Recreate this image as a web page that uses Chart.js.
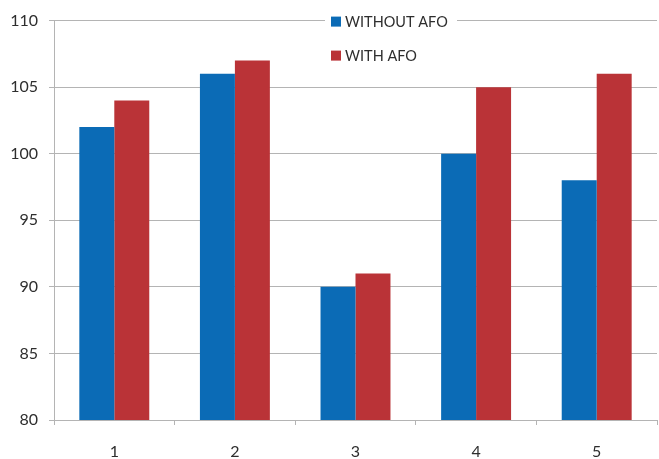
<!DOCTYPE html>
<html>
<head>
<meta charset="utf-8">
<script src="https://cdn.jsdelivr.net/npm/chart.js@4/dist/chart.umd.min.js"></script>
<style>
  html, body { margin: 0; padding: 0; background: #fff; overflow: hidden; }
  #wrap { width: 659px; height: 459px; position: relative; }
</style>
</head>
<body>
<div id="wrap"><canvas id="c"></canvas></div>
<script>
const categories = ['1', '2', '3', '4', '5'];
const withoutAfo = [102, 106, 90, 100, 98];
const withAfo = [104, 107, 91, 105, 106];
const seriesNames = ['WITHOUT AFO', 'WITH AFO'];
const yTicks = [80, 85, 90, 95, 100, 105, 110];

const FONT = 'Lato, "Open Sans", sans-serif';
const TEXT = '#2e2e2e';
const GRID = '#b4b4b4';

// Legend stacked in the top-right of the plot, on a white box over the top gridline
const boxLegend = {
  id: 'boxLegend',
  afterDraw(chart) {
    const { ctx, chartArea } = chart;
    const x0 = chartArea.left + 277;
    const y0 = chartArea.top;
    ctx.save();
    ctx.fillStyle = '#ffffff';
    ctx.fillRect(x0 - 6, y0 - 8, 132, 50);
    ctx.font = '14.5px ' + FONT;
    ctx.textBaseline = 'middle';
    ctx.textAlign = 'left';
    chart.data.datasets.forEach((ds, i) => {
      const cy = y0 + 1 + i * 34;
      ctx.fillStyle = ds.backgroundColor;
      ctx.fillRect(x0, cy - 5, 10, 10);
      ctx.fillStyle = TEXT;
      ctx.fillText(ds.label, x0 + 14, cy + 1);
    });
    ctx.restore();
  }
};

new Chart(document.getElementById('c'), {
  type: 'bar',
  data: {
    labels: categories,
    datasets: [
      { label: seriesNames[0], data: withoutAfo, backgroundColor: '#0b6bb6' },
      { label: seriesNames[1], data: withAfo, backgroundColor: '#ba3337' }
    ]
  },
  options: {
    responsive: true,
    maintainAspectRatio: false,
    animation: false,
    layout: { padding: { top: 17, right: 2, left: 0, bottom: 0 } },
    datasets: { bar: { categoryPercentage: 0.58, barPercentage: 1.0 } },
    plugins: { legend: { display: false }, tooltip: { enabled: false } },
    scales: {
      x: {
        grid: { offset: true, drawOnChartArea: false, color: GRID, tickLength: 5 },
        border: { color: GRID },
        ticks: { color: TEXT, font: { family: FONT, size: 16 }, padding: 17 },
        afterFit(s) { s.height = 39; }
      },
      y: {
        min: 80,
        max: 110,
        afterBuildTicks(s) { s.ticks = yTicks.map(v => ({ value: v })); },
        grid: { color: GRID, tickLength: 5 },
        border: { color: GRID },
        ticks: { color: TEXT, font: { family: FONT, size: 16 }, padding: 11 },
        afterFit(s) { s.width = 54; }
      }
    }
  },
  plugins: [boxLegend]
});
</script>
</body>
</html>
